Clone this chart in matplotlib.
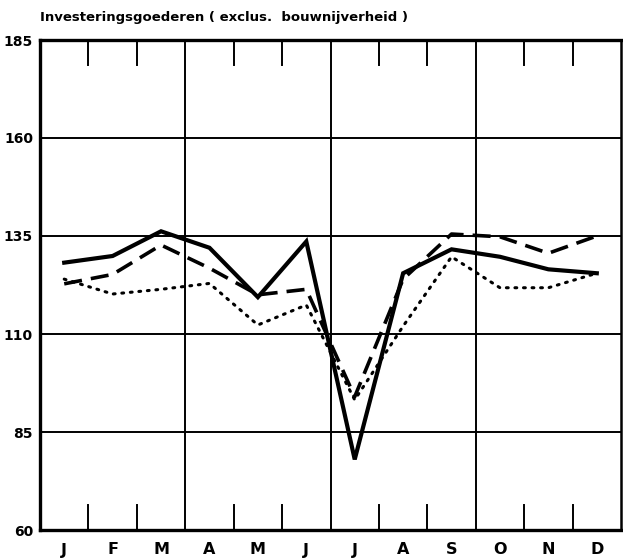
import matplotlib.pyplot as plt
import numpy as np

months = ['J', 'F', 'M', 'A', 'M', 'J', 'J', 'A', 'S', 'O', 'N', 'D']
solid = [128.2, 129.9, 136.2, 132.0, 119.4, 133.6, 78.0, 125.5, 131.6, 129.7, 126.5, 125.5]
dashed = [122.8, 125.2, 132.7, 126.8, 120.0, 121.4, 94.0, 124.0, 135.5, 134.8, 130.6, 135.0]
dotted = [124.0, 120.2, 121.4, 122.9, 112.3, 117.4, 93.2, 112.0, 129.7, 121.8, 121.8, 125.5]
yticks = [60, 85, 110, 135, 160, 185]
title = 'Investeringsgoederen ( exclus.  bouwnijverheid )'

plt.rcParams['font.family'] = ['DejaVu Sans']

fig = plt.figure(figsize=(6.23, 5.59), dpi=100)
ax = fig.add_axes([40 / 623, 29 / 559, 581 / 623, 490 / 559])

x = np.arange(12) + 0.5
ax.plot(x, solid, color='black', lw=3.0, solid_joinstyle='miter')
ax.plot(x, dashed, color='black', lw=2.6, dashes=(5, 2.5))
ax.plot(x, dotted, color='black', lw=2.2, dashes=(0.6, 2.2), dash_capstyle='round')

ax.set_xlim(0, 12)
ax.set_ylim(60, 185)

# grid lines: horizontal every 25, vertical at quarters
for yv in yticks[1:-1]:
    ax.axhline(yv, color='black', lw=1.4, zorder=0)
for xv in [3, 6, 9]:
    ax.axvline(xv, color='black', lw=1.4, zorder=0)

# short inner ticks at month boundaries (top and bottom)
for xv in range(1, 12):
    if xv % 3 == 0:
        continue
    ax.plot([xv, xv], [60, 66.5], color='black', lw=1.4)
    ax.plot([xv, xv], [185, 178.5], color='black', lw=1.4)

for s in ['left', 'bottom', 'top']:
    ax.spines[s].set_linewidth(2.4)
ax.spines['right'].set_linewidth(1.8)

ax.set_yticks(yticks)
ax.set_yticklabels([str(v) for v in yticks], fontsize=10, fontweight='bold')
ax.set_xticks(x)
ax.set_xticklabels(months, fontsize=11.5, fontweight='bold')
ax.tick_params(axis='y', length=0, pad=5)
ax.tick_params(axis='x', length=0, pad=9)

fig.text(40 / 623, 1 - 18 / 559, title, fontsize=9.5, fontweight='bold',
         va='center', ha='left')

fig.savefig('out.png', dpi=100)
